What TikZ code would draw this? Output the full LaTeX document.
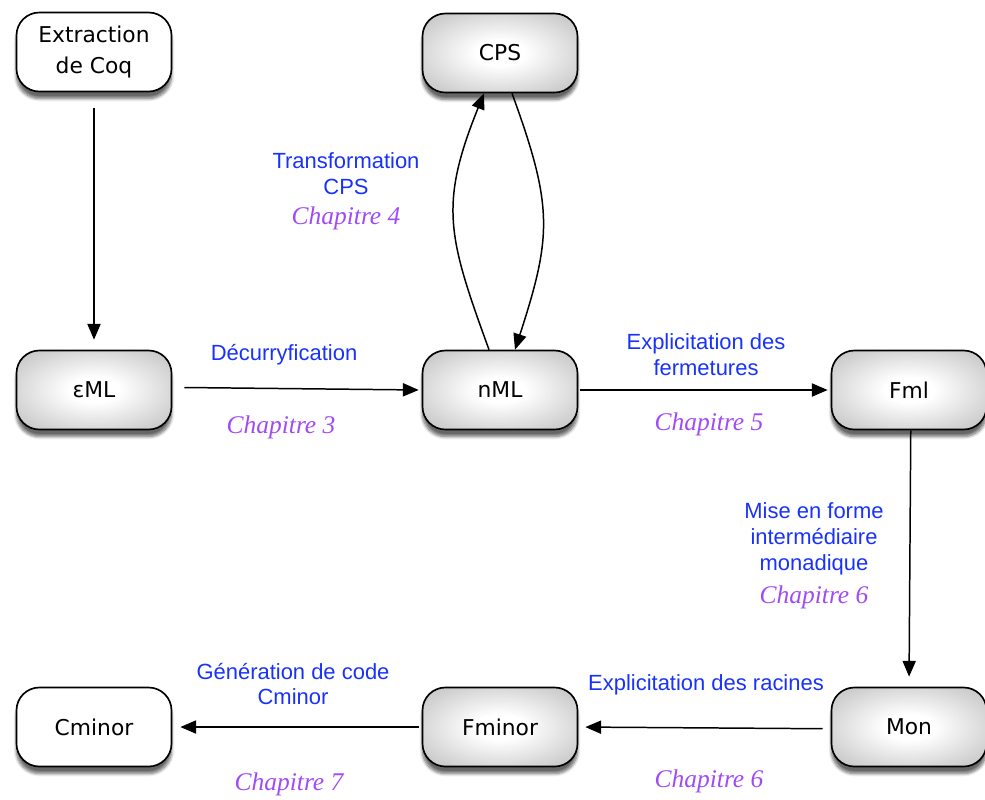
\documentclass[tikz,border=0pt]{standalone}
\usepackage{fontspec}
\usetikzlibrary{arrows.meta,shadows.blur}
\newfontfamily\nodefont{DejaVu Sans}
\newfontfamily\labelfont{Liberation Sans}
\newfontfamily\chapfont{Liberation Serif}
\definecolor{lblblue}{RGB}{25,50,250}
\definecolor{chappurple}{RGB}{160,75,245}
\pgfdeclareradialshading{stepshade}{\pgfpoint{0bp}{0bp}}{color(0bp)=(white); color(8bp)=(white); color(50bp)=(black!38); color(60bp)=(black!38)}
\tikzset{
  passe/.style={draw=black, line width=0.95pt, rounded corners=13pt,
    minimum width=3.1cm, minimum height=1.58cm, align=center,
    font=\nodefont\fontsize{12.4}{17.5}\selectfont,
    blur shadow={shadow xshift=0pt, shadow yshift=-4pt, shadow blur steps=6, shadow opacity=60}},
  grise/.style={passe, shading=stepshade},
  blanche/.style={passe, fill=white},
  lbl/.style={text=lblblue, align=center, font=\labelfont\fontsize{12.5}{14.7}\selectfont},
  chap/.style={text=chappurple, font=\chapfont\itshape\fontsize{14.5}{16}\selectfont},
  fleche/.style={-{Triangle[length=9pt,width=7.5pt]}, line width=0.85pt}
}

\begin{document}
\begin{tikzpicture}
    \useasboundingbox (0,0) rectangle (19.7,-15.98);
    % draw passes
    \node[blanche] (extr) at (1.88,-1.04) {Extraction\\de Coq};
    \node[grise] (cps) at (10.0,-1.06) {CPS};
    \node[grise] (eml) at (1.88,-7.8) {εML};
    \node[grise] (nml) at (10.0,-7.8) {nML};
    \node[grise] (fml) at (18.18,-7.8) {Fml};
    \node[grise] (mon) at (18.18,-14.54) {Mon};
    \node[grise] (fminor) at (10.0,-14.54) {Fminor};
    \node[blanche] (cminor) at (1.88,-14.54) {Cminor};

    % draw arrows
    \draw[fleche, shorten <=0.32cm, shorten >=0.2cm] (extr) -- (eml);
    \draw[fleche, shorten <=0.24cm, shorten >=0.06cm] ([yshift=1.5pt]eml.east) -- (nml.west);
    \draw[fleche, shorten <=0.04cm, shorten >=0.06cm] (nml) -- (fml);
    \draw[fleche, shorten >=0.2cm] ([xshift=1pt]fml.south) -- (mon.north);
    \draw[fleche, shorten <=0.16cm, shorten >=0.14cm] ([yshift=-1pt]mon.west) -- (fminor.east);
    \draw[fleche, shorten <=0.06cm, shorten >=0.16cm] (fminor) -- (cminor);
    \draw[fleche] ([xshift=-0.22cm]nml.north) to[out=110, in=-112, looseness=1.2] ([xshift=-0.32cm]cps.south);
    \draw[fleche] ([xshift=0.24cm]cps.south) to[out=-70, in=72, looseness=1.2] ([xshift=0.3cm]nml.north);

    % draw labels
    \node[lbl] (lcps) at (6.92,-3.48) {Transformation\\CPS};
    \node[chap] (ccps) at (6.92,-4.36) {Chapitre 4};
    \node[lbl] (ldec) at (5.68,-7.1) {Décurryfication};
    \node[chap] (cdec) at (5.62,-8.54) {Chapitre 3};
    \node[lbl] (lferm) at (14.12,-7.1) {Explicitation des\\fermetures};
    \node[chap] (cferm) at (14.18,-8.48) {Chapitre 5};
    \node[lbl] (lmon) at (16.28,-10.78) {Mise en forme\\intermédiaire\\monadique};
    \node[chap] (cmon) at (16.28,-11.94) {Chapitre 6};
    \node[lbl] (lrac) at (14.12,-13.7) {Explicitation des racines};
    \node[chap] (crac) at (14.18,-15.62) {Chapitre 6};
    \node[lbl] (lgen) at (5.86,-13.68) {Génération de code\\Cminor};
    \node[chap] (cgen) at (5.78,-15.68) {Chapitre 7};
\end{tikzpicture}
\end{document}
